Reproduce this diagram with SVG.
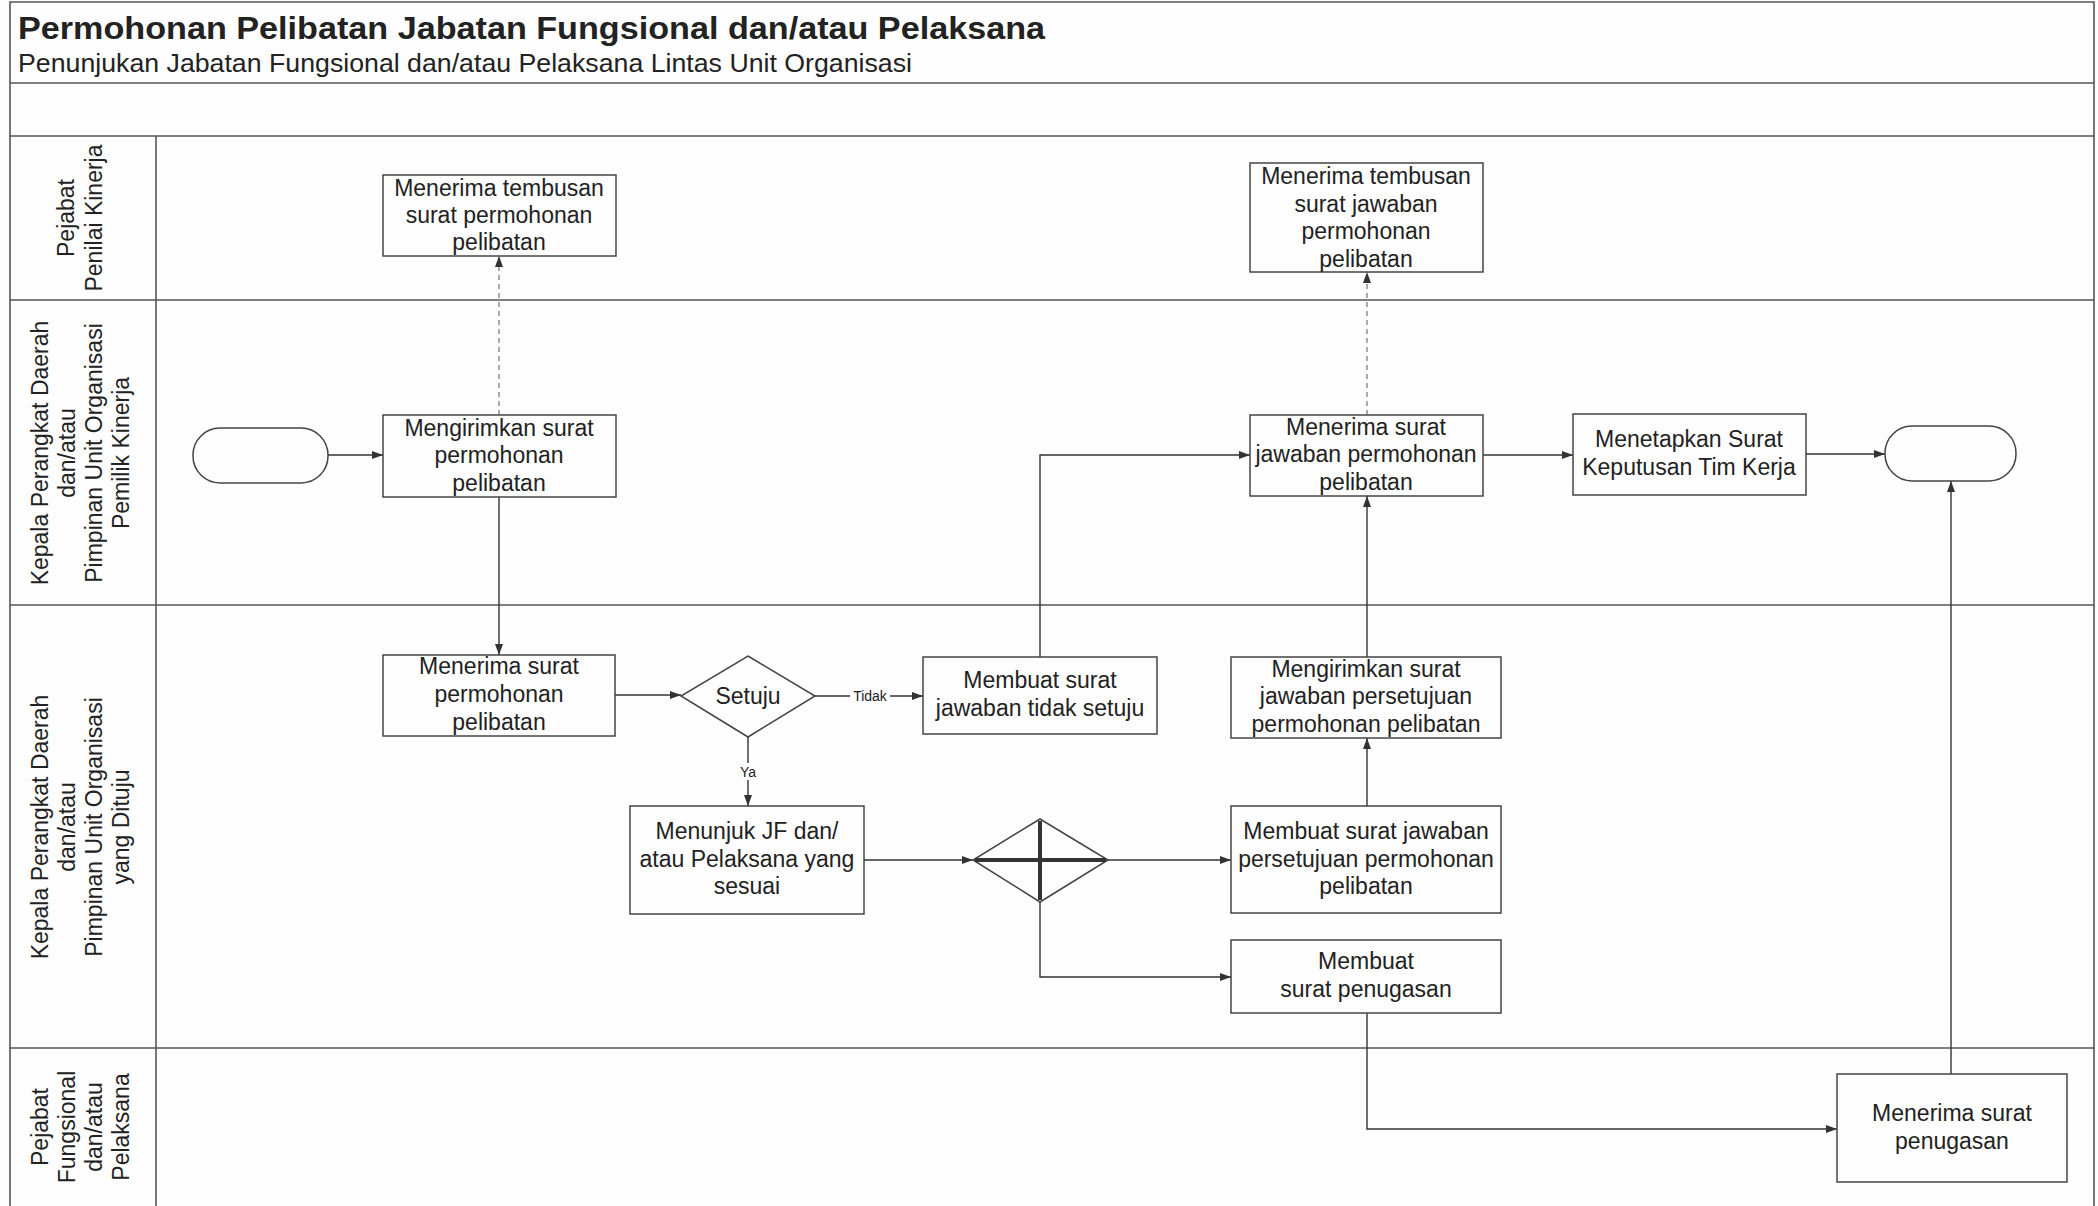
<svg xmlns="http://www.w3.org/2000/svg" width="2098" height="1206" viewBox="0 0 2098 1206">
<style>
.bg{fill:#fdfdfd}
.frame{fill:none;stroke:#555;stroke-width:1.6}
.box{fill:#fdfdfd;stroke:#444;stroke-width:1.5}
.t{font-family:"Liberation Sans",Arial,sans-serif;font-size:23px;fill:#222;text-anchor:middle}
.lane{font-family:"Liberation Sans",Arial,sans-serif;font-size:23px;fill:#222;text-anchor:middle}
.lbl{font-family:"Liberation Sans",Arial,sans-serif;font-size:14px;fill:#222;text-anchor:middle}
.c{fill:none;stroke:#333;stroke-width:1.4}
.d{fill:none;stroke:#666;stroke-width:1.1;stroke-dasharray:5 4}
</style>
<defs>
<marker id="arr" markerWidth="11" markerHeight="8" refX="11" refY="4" orient="auto" markerUnits="userSpaceOnUse">
<path d="M0,0 L11,4 L0,8 z" fill="#333"/>
</marker>
</defs>
<rect class="bg" x="0" y="0" width="2098" height="1206"/>
<g id="frame">
<path class="frame" d="M10,1210 V2 H2094 V1210"/>
<line class="frame" x1="10" y1="83" x2="2094" y2="83"/>
<line class="frame" x1="10" y1="136" x2="2094" y2="136"/>
<line class="frame" x1="10" y1="300" x2="2094" y2="300"/>
<line class="frame" x1="10" y1="605" x2="2094" y2="605"/>
<line class="frame" x1="10" y1="1048" x2="2094" y2="1048"/>
<line class="frame" x1="156" y1="136" x2="156" y2="1210"/>
<text x="18" y="39" font-family="Liberation Sans,Arial,sans-serif" font-weight="bold" font-size="31" fill="#222" textLength="1027" lengthAdjust="spacingAndGlyphs">Permohonan Pelibatan Jabatan Fungsional dan/atau Pelaksana</text>
<text x="18" y="72" font-family="Liberation Sans,Arial,sans-serif" font-size="26" fill="#222" textLength="894" lengthAdjust="spacingAndGlyphs">Penunjukan Jabatan Fungsional dan/atau Pelaksana Lintas Unit Organisasi</text>
</g>
<g id="lane-labels">
<text class="lane" transform="translate(74,218) rotate(-90)">Pejabat</text>
<text class="lane" transform="translate(102,218) rotate(-90)">Penilai Kinerja</text>
<text class="lane" transform="translate(48,453) rotate(-90)">Kepala Perangkat Daerah</text>
<text class="lane" transform="translate(75,453) rotate(-90)">dan/atau</text>
<text class="lane" transform="translate(102,453) rotate(-90)">Pimpinan Unit Organisasi</text>
<text class="lane" transform="translate(129,453) rotate(-90)">Pemilik Kinerja</text>
<text class="lane" transform="translate(48,827) rotate(-90)">Kepala Perangkat Daerah</text>
<text class="lane" transform="translate(75,827) rotate(-90)">dan/atau</text>
<text class="lane" transform="translate(102,827) rotate(-90)">Pimpinan Unit Organisasi</text>
<text class="lane" transform="translate(129,827) rotate(-90)">yang Dituju</text>
<text class="lane" transform="translate(48,1127) rotate(-90)">Pejabat</text>
<text class="lane" transform="translate(75,1127) rotate(-90)">Fungsional</text>
<text class="lane" transform="translate(102,1127) rotate(-90)">dan/atau</text>
<text class="lane" transform="translate(129,1127) rotate(-90)">Pelaksana</text>
</g>
<g id="connectors">
<line class="c" x1="328" y1="455" x2="383" y2="455" marker-end="url(#arr)"/>
<line class="d" x1="499" y1="415" x2="499" y2="256" marker-end="url(#arr)"/>
<line class="c" x1="499" y1="497" x2="499" y2="655" marker-end="url(#arr)"/>
<line class="c" x1="615" y1="695" x2="681" y2="695" marker-end="url(#arr)"/>
<line class="c" x1="815" y1="696" x2="923" y2="696" marker-end="url(#arr)"/>
<line class="c" x1="748" y1="737" x2="748" y2="806" marker-end="url(#arr)"/>
<line class="c" x1="864" y1="860" x2="973" y2="860" marker-end="url(#arr)"/>
<line class="c" x1="1108" y1="860" x2="1231" y2="860" marker-end="url(#arr)"/>
<polyline class="c" points="1040,902 1040,977 1231,977" marker-end="url(#arr)"/>
<line class="c" x1="1367" y1="806" x2="1367" y2="738" marker-end="url(#arr)"/>
<line class="c" x1="1367" y1="657" x2="1367" y2="496" marker-end="url(#arr)"/>
<polyline class="c" points="1040,657 1040,455 1250,455" marker-end="url(#arr)"/>
<line class="d" x1="1367" y1="415" x2="1367" y2="272" marker-end="url(#arr)"/>
<line class="c" x1="1483" y1="455" x2="1573" y2="455" marker-end="url(#arr)"/>
<line class="c" x1="1806" y1="454" x2="1885" y2="454" marker-end="url(#arr)"/>
<polyline class="c" points="1367,1013 1367,1129 1837,1129" marker-end="url(#arr)"/>
<line class="c" x1="1951" y1="1074" x2="1951" y2="481" marker-end="url(#arr)"/>
<rect x="850" y="686" width="40" height="18" fill="#fdfdfd"/>
<text class="lbl" x="870" y="701">Tidak</text>
<rect x="738" y="763" width="20" height="17" fill="#fdfdfd"/>
<text class="lbl" x="748" y="777">Ya</text>
</g>
<g id="n-start">
<rect class="box" x="193" y="428" width="135" height="55" rx="27" ry="27"/>
</g>
<g id="n-tembusan-permohonan">
<rect class="box" x="383" y="175" width="233" height="81"/>
<text class="t" x="499" y="196">Menerima tembusan</text>
<text class="t" x="499" y="223">surat permohonan</text>
<text class="t" x="499" y="250">pelibatan</text>
</g>
<g id="n-mengirimkan">
<rect class="box" x="383" y="415" width="233" height="82"/>
<text class="t" x="499" y="436">Mengirimkan surat</text>
<text class="t" x="499" y="463">permohonan</text>
<text class="t" x="499" y="491">pelibatan</text>
</g>
<g id="n-menerima-permohonan">
<rect class="box" x="383" y="655" width="232" height="81"/>
<text class="t" x="499" y="674">Menerima surat</text>
<text class="t" x="499" y="702">permohonan</text>
<text class="t" x="499" y="730">pelibatan</text>
</g>
<g id="n-setuju">
<polygon class="box" points="748,656 815,696 748,737 681,696"/>
<text class="t" x="748" y="704">Setuju</text>
</g>
<g id="n-tidak-setuju">
<rect class="box" x="923" y="657" width="234" height="77"/>
<text class="t" x="1040" y="688">Membuat surat</text>
<text class="t" x="1040" y="716">jawaban tidak setuju</text>
</g>
<g id="n-menunjuk">
<rect class="box" x="630" y="806" width="234" height="108"/>
<text class="t" x="747" y="839">Menunjuk JF dan/</text>
<text class="t" x="747" y="867">atau Pelaksana yang</text>
<text class="t" x="747" y="894">sesuai</text>
</g>
<g id="n-gateway">
<polygon class="box" points="1040,819 1108,860 1040,902 973,860"/>
<line x1="975" y1="860" x2="1106" y2="860" stroke="#333" stroke-width="4"/>
<line x1="1040" y1="821" x2="1040" y2="900" stroke="#333" stroke-width="4"/>
</g>
<g id="n-mengirimkan-persetujuan">
<rect class="box" x="1231" y="657" width="270" height="81"/>
<text class="t" x="1366" y="677">Mengirimkan surat</text>
<text class="t" x="1366" y="704">jawaban persetujuan</text>
<text class="t" x="1366" y="732">permohonan pelibatan</text>
</g>
<g id="n-membuat-persetujuan">
<rect class="box" x="1231" y="806" width="270" height="107"/>
<text class="t" x="1366" y="839">Membuat surat jawaban</text>
<text class="t" x="1366" y="867">persetujuan permohonan</text>
<text class="t" x="1366" y="894">pelibatan</text>
</g>
<g id="n-membuat-penugasan">
<rect class="box" x="1231" y="940" width="270" height="73"/>
<text class="t" x="1366" y="969">Membuat</text>
<text class="t" x="1366" y="997">surat penugasan</text>
</g>
<g id="n-tembusan-jawaban">
<rect class="box" x="1250" y="163" width="233" height="109"/>
<text class="t" x="1366" y="184">Menerima tembusan</text>
<text class="t" x="1366" y="212">surat jawaban</text>
<text class="t" x="1366" y="239">permohonan</text>
<text class="t" x="1366" y="267">pelibatan</text>
</g>
<g id="n-menerima-jawaban">
<rect class="box" x="1250" y="415" width="233" height="81"/>
<text class="t" x="1366" y="435">Menerima surat</text>
<text class="t" x="1366" y="462">jawaban permohonan</text>
<text class="t" x="1366" y="490">pelibatan</text>
</g>
<g id="n-menetapkan">
<rect class="box" x="1573" y="414" width="233" height="81"/>
<text class="t" x="1689" y="447">Menetapkan Surat</text>
<text class="t" x="1689" y="475">Keputusan Tim Kerja</text>
</g>
<g id="n-end">
<rect class="box" x="1885" y="426" width="131" height="55" rx="27" ry="27"/>
</g>
<g id="n-menerima-penugasan">
<rect class="box" x="1837" y="1074" width="230" height="108"/>
<text class="t" x="1952" y="1121">Menerima surat</text>
<text class="t" x="1952" y="1149">penugasan</text>
</g>
</svg>
